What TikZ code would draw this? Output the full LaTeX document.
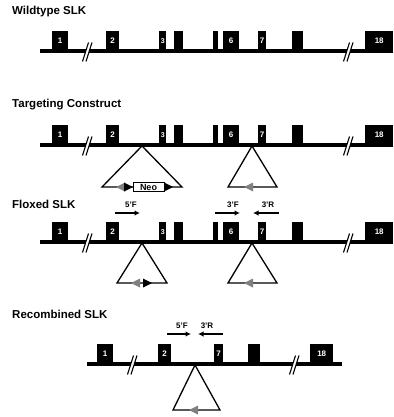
\documentclass[tikz,border=0pt]{standalone}
\usepackage{fontspec}
\setmainfont{Liberation Sans}
\usetikzlibrary{arrows.meta}
\tikzset{
  chrom/.style={line width=3.8pt},
  exon/.style={fill=black, draw=none, inner sep=0pt, text=white, font=\bfseries\fontsize{8}{8}\selectfont},
  loopline/.style={line width=1.3pt, line join=miter},
  ttl/.style={font=\bfseries\fontsize{11.5}{13}\selectfont, anchor=west, inner sep=0pt},
  plabel/.style={font=\bfseries\fontsize{8}{9}\selectfont, inner sep=0pt},
  parrow/.style={line width=1.2pt, -{Latex[length=5.5pt,width=5.5pt]}},
  brkline/.style={line width=1.1pt},
  neobox/.style={draw, fill=white, line width=0.8pt, minimum width=31pt, minimum height=8.5pt, inner sep=0pt, font=\bfseries\fontsize{9}{9}\selectfont},
}
\newcommand\ex[5]{\node[exon,minimum width=#3pt,minimum height=20pt,anchor=south west] (#1) at (#2,#4) {#5};}
\newcommand\brk[3]{%
  \coordinate (#1) at (#2,#3);
  \fill[white] ([shift={(-5.5,9.5)}]#1) -- ([shift={(-2,9.5)}]#1) -- ([shift={(4,-9.5)}]#1) -- ([shift={(0.5,-9.5)}]#1) -- cycle;
  \draw[brkline] ([shift={(-5.5,9.5)}]#1) -- ([shift={(0.5,-9.5)}]#1);
  \draw[brkline] ([shift={(-2,9.5)}]#1) -- ([shift={(4,-9.5)}]#1);
}
\newcommand\larr[4]{\fill[#4] (#2,#3) -- ++(9,-4.5) -- ++(0,9) -- cycle; \coordinate (#1) at (#2,#3);}
\newcommand\rarr[4]{\fill[#4] (#2,#3) -- ++(-9,-4.5) -- ++(0,9) -- cycle; \coordinate (#1) at (#2,#3);}
\begin{document}
\begin{tikzpicture}[x=1pt,y=-1pt]
\useasboundingbox (0,0) rectangle (393,417);
% ---------- Wildtype ----------
\node[ttl] (t1) at (12,12) {Wildtype SLK};
\coordinate (w0) at (40,51); \coordinate (w9) at (393,51);
\draw[chrom] (w0) -- (w9);
\ex{wa}{52}{16}{51}{1}
\ex{wb}{106}{13}{51}{2}
\ex{wc}{159}{7}{51}{\fontsize{7}{7}\selectfont 3}
\ex{wd}{174}{9}{51}{}
\ex{we}{213}{5}{51}{}
\ex{wf}{223}{16}{51}{6}
\ex{wg}{258}{8}{51}{7}
\ex{wh}{292}{11}{51}{}
\ex{wi}{365}{28}{51}{18}
\brk{wb1}{88}{52}
\brk{wb2}{349}{52}
% ---------- Targeting construct ----------
\node[ttl] (t2) at (12,105) {Targeting Construct};
\coordinate (c0) at (40,145); \coordinate (c9) at (393,145);
\draw[chrom] (c0) -- (c9);
\ex{ca}{52}{16}{145}{1}
\ex{cb}{106}{13}{145}{2}
\ex{cc}{159}{7}{145}{\fontsize{7}{7}\selectfont 3}
\ex{cd}{174}{9}{145}{}
\ex{ce}{213}{5}{145}{}
\ex{cf}{223}{16}{145}{6}
\ex{cg}{258}{8}{145}{7}
\ex{ch}{292}{11}{145}{}
\ex{ci}{365}{28}{145}{18}
\brk{cb1}{88}{146}
\brk{cb2}{349}{146}
\coordinate (ct1) at (142,146); \coordinate (ct1l) at (102,187); \coordinate (ct1r) at (182,187);
\draw[loopline] (ct1) -- (ct1l) -- (ct1r) -- cycle;
\larr{cg1}{116}{187}{gray}
\rarr{ck1}{133}{187}{black}
\node[neobox] (neo) at (148.5,187) {Neo};
\rarr{ck2}{173}{187}{black}
\coordinate (ct2) at (252,146); \coordinate (ct2l) at (228,187); \coordinate (ct2r) at (277,187);
\draw[loopline] (ct2) -- (ct2l) -- (ct2r) -- cycle;
\larr{cg2}{244}{187}{gray}
% ---------- Floxed ----------
\node[ttl] (t3) at (12,204) {Floxed SLK};
\coordinate (f0) at (40,242); \coordinate (f9) at (393,242);
\draw[chrom] (f0) -- (f9);
\ex{fa}{52}{16}{242}{1}
\ex{fb}{106}{13}{242}{2}
\ex{fc}{159}{7}{242}{\fontsize{7}{7}\selectfont 3}
\ex{fd}{174}{9}{242}{}
\ex{fe}{213}{5}{242}{}
\ex{ff}{223}{16}{242}{6}
\ex{fg}{258}{8}{242}{7}
\ex{fh}{292}{11}{242}{}
\ex{fi}{365}{28}{242}{18}
\brk{fb1}{88}{243}
\brk{fb2}{349}{243}
\coordinate (ft1) at (142,243); \coordinate (ft1l) at (117,283); \coordinate (ft1r) at (167,283);
\draw[loopline] (ft1) -- (ft1l) -- (ft1r) -- cycle;
\larr{fg1}{131}{283}{gray}
\rarr{fk1}{152}{283}{black}
\coordinate (ft2) at (252,243); \coordinate (ft2l) at (228,283); \coordinate (ft2r) at (277,283);
\draw[loopline] (ft2) -- (ft2l) -- (ft2r) -- cycle;
\larr{fg2}{244}{283}{gray}
% primers
\node[plabel] (p5f) at (131,205) {5'F};
\coordinate (p5a) at (115,213); \coordinate (p5b) at (140,213);
\draw[parrow] (p5a) -- (p5b);
\node[plabel] (p3f) at (233,205) {3'F};
\coordinate (p3a) at (215,213); \coordinate (p3b) at (240,213);
\draw[parrow] (p3a) -- (p3b);
\node[plabel] (p3r) at (268,205) {3'R};
\coordinate (p3c) at (279,213); \coordinate (p3d) at (253,213);
\draw[parrow] (p3c) -- (p3d);
% ---------- Recombined ----------
\node[ttl] (t4) at (12,314) {Recombined SLK};
\coordinate (r0) at (87,364); \coordinate (r9) at (342,364);
\draw[chrom] (r0) -- (r9);
\ex{ra}{97}{16}{364}{1}
\ex{rb}{158}{13}{364}{2}
\ex{rg}{214}{9}{364}{7}
\ex{rh}{248}{12}{364}{}
\ex{ri}{310}{23}{364}{18}
\brk{rb1}{133}{365}
\brk{rb2}{295}{365}
\coordinate (rt) at (195,365); \coordinate (rtl) at (173,410); \coordinate (rtr) at (220,410);
\draw[loopline] (rt) -- (rtl) -- (rtr) -- cycle;
\larr{rg1}{189}{410}{gray}
\node[plabel] (r5f) at (182,326) {5'F};
\coordinate (r5a) at (167,334); \coordinate (r5b) at (191,334);
\draw[parrow] (r5a) -- (r5b);
\node[plabel] (r3r) at (207,326) {3'R};
\coordinate (r3a) at (223,334); \coordinate (r3b) at (198,334);
\draw[parrow] (r3a) -- (r3b);
\end{tikzpicture}
\end{document}
